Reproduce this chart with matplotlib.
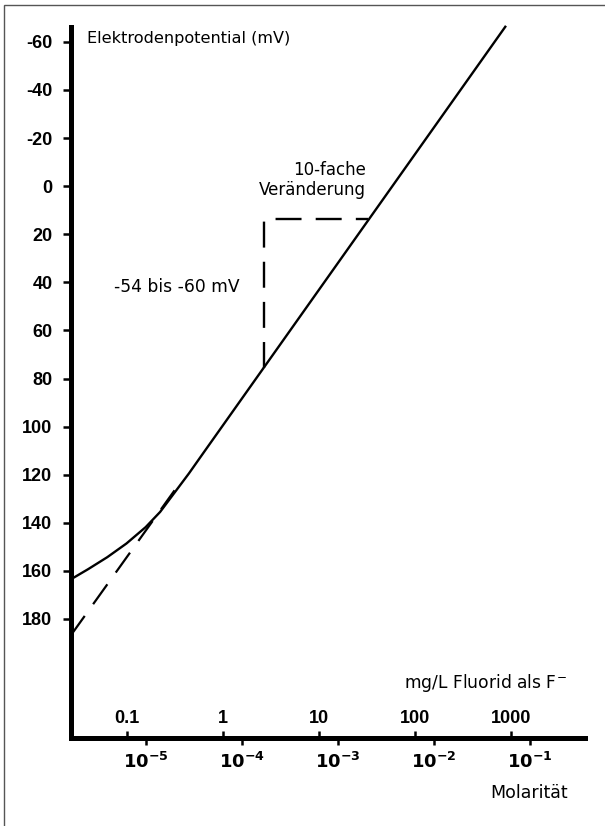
import matplotlib.pyplot as plt
from matplotlib.patches import Rectangle

curve_m = [1.648e-6, 2.512e-6, 3.981e-6, 6.31e-6, 1.0e-5, 1.413e-5,
           1.995e-5, 2.818e-5, 3.981e-5, 5.66e-2]
curve_mv = [163.6, 159.3, 154.3, 148.6, 141.8, 135.5,
            127.5, 119.5, 111.0, -66.7]

# extrapolated nernst line (dashed)
extra_m = [1.648e-6, 2.0e-5]
extra_mv = [187.0, 126.5]

# 10-fold change marker
step_m = [1.71e-4, 1.71e-4, 2.07e-3]
step_mv = [75.5, 13.6, 13.6]

y_ticks = [-60, -40, -20, 0, 20, 40, 60, 80, 100, 120, 140, 160, 180]
mol_ticks = [1e-5, 1e-4, 1e-3, 1e-2, 1e-1]
mol_labels = [r'$\mathbf{10^{-5}}$', r'$\mathbf{10^{-4}}$', r'$\mathbf{10^{-3}}$',
              r'$\mathbf{10^{-2}}$', r'$\mathbf{10^{-1}}$']
mg_ticks = [0.1, 1, 10, 100, 1000]
mg_labels = ['0.1', '1', '10', '100', '1000']
mg_per_mol = 10 ** 4.198   # scale offset as drawn in the chart

bold = ['Liberation Sans Narrow', 'Liberation Sans', 'DejaVu Sans']
plain = ['DejaVu Sans']
plt.rcParams['mathtext.fontset'] = 'custom'
plt.rcParams['mathtext.bf'] = 'Liberation Sans Narrow:bold'
plt.rcParams['mathtext.rm'] = 'Liberation Sans Narrow'

fig = plt.figure(figsize=(6.05, 8.26), dpi=100)
fig.patches.append(Rectangle((4 / 605, -0.1), 1.2, 1.1 - 5 / 826, transform=fig.transFigure,
                             fill=False, edgecolor='#555555', linewidth=1.0))
ax = fig.add_axes([70.5 / 605, 1 - 738 / 826, (585 - 70.5) / 605, (738 - 27) / 826])

ax.set_xscale('log')
ax.set_xlim(10 ** -5.783, 10 ** -0.424)
ax.set_ylim(229.5, -66.2)

ax.plot(curve_m, curve_mv, color='black', lw=1.7, clip_on=False, solid_capstyle='butt',
        solid_joinstyle='round')
ax.plot(extra_m, extra_mv, color='black', lw=1.6, dashes=(11, 6.5))
ax.plot(step_m, step_mv, color='black', lw=1.7, dashes=(11, 6))

for s in ['top', 'right']:
    ax.spines[s].set_visible(False)
for s in ['left', 'bottom']:
    ax.spines[s].set_linewidth(3.6)
    ax.spines[s].set_capstyle('projecting')

ax.set_yticks(y_ticks)
ax.set_yticklabels([str(v) for v in y_ticks], fontfamily=bold, fontweight='bold', fontsize=13)
ax.tick_params(axis='y', length=6, width=1.8, pad=7)

ax.set_xticks(mol_ticks)
ax.set_xticklabels(mol_labels, fontsize=13)
ax.xaxis.set_minor_locator(plt.NullLocator())
ax.tick_params(axis='x', length=5, width=1.8, pad=5)

sec = ax.secondary_xaxis(0.0, functions=(lambda m: m * mg_per_mol, lambda g: g / mg_per_mol))
sec.xaxis.set_ticks_position('top')
sec.xaxis.set_label_position('top')
sec.set_xticks(mg_ticks)
sec.set_xticklabels(mg_labels, fontfamily=bold, fontweight='bold', fontsize=13)
sec.xaxis.set_minor_locator(plt.NullLocator())
sec.tick_params(axis='x', direction='out', length=5, width=1.8, pad=3)
for s in sec.spines.values():
    s.set_visible(False)

ax.text(0.033, 0.9835, 'Elektrodenpotential (mV)', transform=ax.transAxes,
        fontfamily=plain, fontsize=11.6, va='center', ha='left')
ax.text(1.97e-3, -2.4, '10-fache\nVeränderung', fontfamily=plain, fontsize=12,
        ha='right', va='center', linespacing=1.15)
ax.text(2.1e-5, 42, '-54 bis -60 mV', fontfamily=plain, fontsize=12.3,
        ha='center', va='center')
fig.text(567 / 605, 1 - 683 / 826, 'mg/L Fluorid als F$^{-}$', fontfamily=plain,
         fontsize=12.3, ha='right', va='center')
fig.text(568 / 605, 1 - 793 / 826, 'Molarität', fontfamily=plain, fontsize=12.5,
         ha='right', va='center')

fig.savefig('out.png', dpi=100)
